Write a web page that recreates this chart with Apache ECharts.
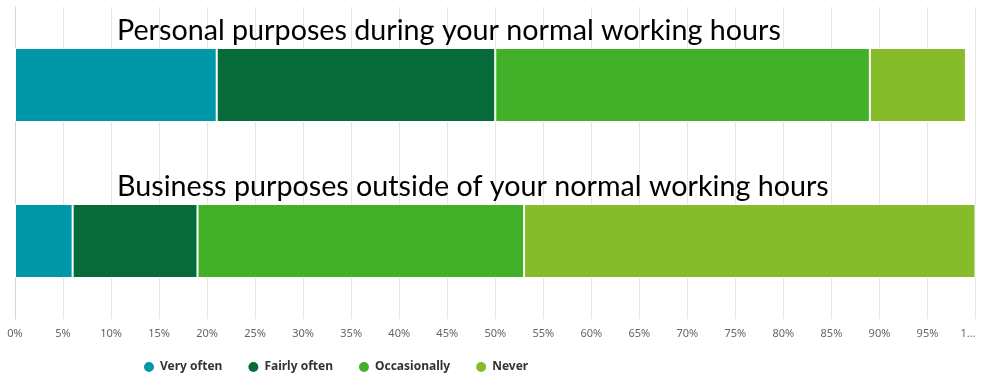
<!DOCTYPE html>
<html>
<head>
<meta charset="utf-8">
<script src="https://cdn.jsdelivr.net/npm/echarts@6/dist/echarts.min.js"></script>
<style>html,body{margin:0;padding:0;background:#fff}#c{width:984px;height:385px}</style>
</head>
<body>
<div id="c"></div>
<script>
const categories = ['Personal purposes during your normal working hours', 'Business purposes outside of your normal working hours'];
const seriesNames = ['Very often', 'Fairly often', 'Occasionally', 'Never'];
const veryOften = [21, 6];
const fairlyOften = [29, 13];
const occasionally = [39, 34];
const never = [10, 47];
const colors = ['#0097a9', '#066b38', '#43b02a', '#86bb2a'];
const xTicks = [0, 100, 5];

const values = [veryOften, fairlyOften, occasionally, never];
const chart = echarts.init(document.getElementById('c'));
chart.setOption({
  animation: false,
  color: colors,
  grid: { left: 15, right: 8.5, top: 7, bottom: 66 },
  legend: {
    left: 137, top: 355,
    icon: 'circle', itemWidth: 12, itemHeight: 12, itemGap: 24,
    textStyle: { fontFamily: 'Noto Sans', fontSize: 12, fontWeight: 'bold', color: '#333' },
    data: seriesNames
  },
  xAxis: {
    type: 'value', min: xTicks[0], max: xTicks[1], interval: xTicks[2],
    axisLine: { show: false }, axisTick: { show: false },
    splitLine: { lineStyle: { color: '#e6e6e6' } },
    axisLabel: { color: '#666', fontSize: 11, fontFamily: 'Noto Sans', margin: 9,
      alignMaxLabel: 'right',
      formatter: v => v === 100 ? '1…' : v + '%' }
  },
  yAxis: {
    type: 'category', data: categories, inverse: true,
    axisLine: { lineStyle: { color: '#ccd6eb' } },
    axisTick: { length: 10, inside: false, lineStyle: { color: '#ccd6eb' } },
    axisLabel: { show: false },
    splitLine: { show: false }
  },
  series: seriesNames.map((name, i) => ({
    name, type: 'bar', stack: 'total', barWidth: 74,
    data: values[i],
    itemStyle: { borderColor: '#fff', borderWidth: 1 },
    label: i === 0 ? {
      show: true, position: [102, -3], align: 'left', verticalAlign: 'bottom',
      fontFamily: 'Lato', fontSize: 28.7, color: '#000',
      formatter: p => p.name
    } : { show: false }
  }))
});
</script>
</body>
</html>
